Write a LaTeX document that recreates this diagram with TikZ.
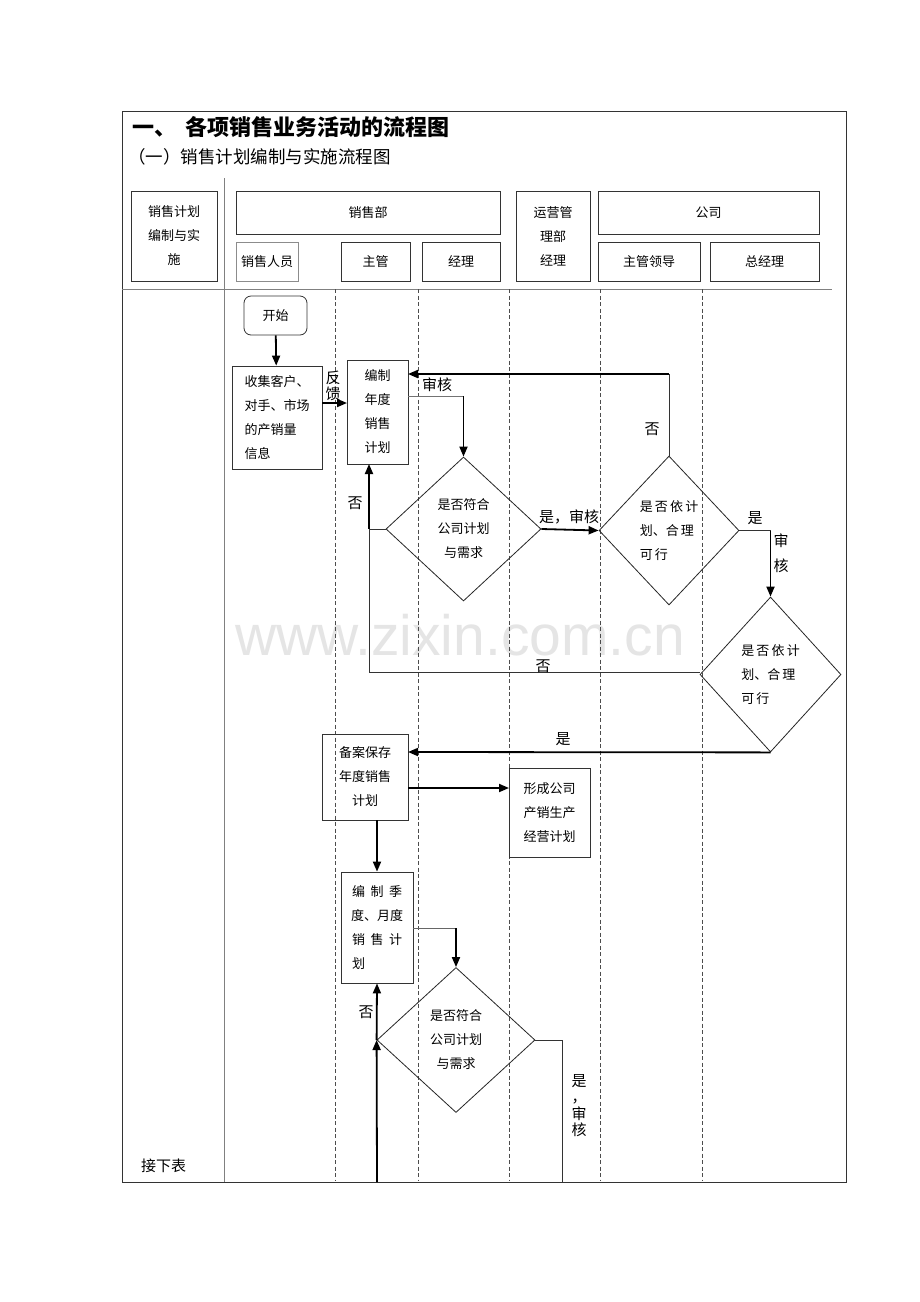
\documentclass[tikz,border=0pt]{standalone}
\usepackage{fontspec}
\setmainfont{Noto Sans CJK SC}
\newfontfamily\wmfont{Liberation Sans}
\usetikzlibrary{arrows.meta,shapes.geometric}
\begin{document}
\begin{tikzpicture}[x=1pt,y=-1pt,
  box/.style={draw=black!80, line width=0.8pt, inner sep=0pt, font=\fontsize{13}{24}\selectfont, align=center},
  dia/.style={draw=black!85, diamond, line width=0.8pt, inner sep=0pt, font=\fontsize{13}{24}\selectfont, align=left},
  thin/.style={line width=0.8pt, black!80},
  thk/.style={line width=1.8pt, black},
  tip/.style={-{Triangle[length=10pt,width=8pt]}},
  lbl/.style={font=\fontsize{15}{15}\selectfont, inner sep=0pt},
  lane/.style={dashed, dash pattern=on 4pt off 2.5pt, line width=0.7pt, black!70},
  gline/.style={line width=0.8pt, black!50}
]
\useasboundingbox (0,0) rectangle (920,1302);
\fill[white] (0,0) rectangle (920,1302);

% watermark
\node[text=black!10, font=\wmfont\fontsize{57}{57}\selectfont, inner sep=0pt] (wm) at (460,635) {www.zixin.com.cn};

% outer frame
\draw[line width=0.9pt, black!80] (122,111) rectangle (846,1182);
\node[anchor=west, font=\fontsize{22}{22}\selectfont\bfseries, inner sep=0pt] (title) at (132,127) {一、\hspace{9pt}各项销售业务活动的流程图};
\node[anchor=west, font=\fontsize{17.5}{18}\selectfont, inner sep=0pt] (subtitle) at (128,157) {（一）销售计划编制与实施流程图};

% header separators
\coordinate (vtop) at (224,178);
\coordinate (vbot) at (224,1182);
\draw[gline] (vtop) -- (vbot);
\coordinate (hl) at (122,289);
\coordinate (hr) at (832,289);
\draw[gline] (hl) -- (hr);

% lanes
\foreach \x/\n in {335/a,418/b,509/c,600/d,702/e}{
  \coordinate (lt\n) at (\x,289);
  \coordinate (lb\n) at (\x,1181);
  \draw[lane] (lt\n) -- (lb\n);
}

% header boxes
\node[box, minimum width=86, minimum height=90] (hA) at (174,236) {销售计划\\编制与实\\施};
\node[box, minimum width=264, minimum height=43] (hB) at (368,212.5) {销售部};
\node[box, draw=black!45, minimum width=62, minimum height=39] (hB1) at (267,261.5) {销售人员};
\node[box, minimum width=69, minimum height=39] (hB2) at (375.5,261.5) {主管};
\node[box, minimum width=78, minimum height=39] (hB3) at (461,261.5) {经理};
\node[box, minimum width=74, minimum height=90] (hC) at (553,236) {运营管\\理部\\经理};
\node[box, minimum width=221, minimum height=43] (hD) at (708.5,212.5) {公司};
\node[box, minimum width=102, minimum height=39] (hD1) at (649,261.5) {主管领导};
\node[box, minimum width=109, minimum height=39] (hD2) at (764.5,261.5) {总经理};

% flow nodes
\node[box, rounded corners=7pt, minimum width=63, minimum height=39] (start) at (275.5,315.5) {开始};
\node[box, minimum width=90, minimum height=103, align=left] (collect) at (277,417.5) {收集客户、\\对手、市场\\的产销量\\信息};
\node[box, minimum width=61, minimum height=104] (plan) at (377.5,412) {编制\\年度\\销售\\计划};
\node[dia, minimum width=155, minimum height=144, align=center] (d1) at (463.5,529) {是否符合\\公司计划\\与需求};
\node[dia, minimum width=140, minimum height=149] (d2) at (669,530.5) {是\,否\,依\,计\\划、合\,理\\可\,行};
\node[dia, minimum width=141, minimum height=155] (d3) at (770.5,674.5) {是\,否\,依\,计\\划、合\,理\\可\,行};
\node[box, minimum width=86, minimum height=86] (save) at (365,777) {备案保存\\年度销售\\计划};
\node[box, minimum width=81, minimum height=89] (form) at (549.5,812.5) {形成公司\\产销生产\\经营计划};
\node[box, minimum width=72, minimum height=111, align=left] (qplan) at (377,927.5) {\makebox[50pt]{编\hfill 制\hfill 季}\\\makebox[50pt]{度、月\hfill 度}\\\makebox[50pt]{销\hfill 售\hfill 计}\\划};
\node[dia, minimum width=158, minimum height=145, align=center] (d4) at (456,1040) {是否符合\\公司计划\\与需求};
\node[anchor=west, font=\fontsize{15}{15}\selectfont, inner sep=0pt] (next) at (141,1166) {接下表};

% connectors
\draw[thk, tip] (start) -- (collect);
\coordinate (c1) at (322,403);
\coordinate (c2) at (347,403);
\draw[thk, tip] (c1) -- (c2);
\node[lbl, align=center, font=\fontsize{15}{16}\selectfont] (fk) at (333,386) {反\\馈};

% plan -> d1
\coordinate (p1) at (408,396);
\coordinate (p2) at (463.5,396);
\draw[thin, black!55] (p1) -- (p2);
\draw[thk, tip] (p2) -- (d1.north);

% d2 back to plan (no)
\coordinate (f1) at (669,374);
\coordinate (f2) at (408,374);
\draw[thin] (d2.north) -- (f1);
\draw[thk, tip] (f1) -- (f2);
\node[lbl] (shenhe1) at (437,385) {审核};
\node[lbl] (no1) at (652,429) {否};

% d1 left -> plan (no)
\coordinate (n1) at (369,529);
\coordinate (n2) at (369,464);
\draw[thin] (d1.west) -- (n1);
\draw[thk, tip] (n1) -- (n2);
\node[lbl] (no2) at (355,503) {否};
% d3 left -> back (no)
\coordinate (n3) at (369,672);
\coordinate (n4) at (700,672);
\draw[thin] (n1) -- (n3) -- (n4);
\node[lbl] (no3) at (543,666) {否};

% d1 -> d2
\draw[thk, tip] (d1.east) -- (d2.west);
\node[lbl] (yes1) at (569,517) {是，审核};

% d2 -> d3
\coordinate (y1) at (770.5,530.5);
\draw[thin] (d2.east) -- (y1);
\draw[thk, tip] (y1) -- (d3.north);
\node[lbl] (yes2) at (755,518) {是};
\node[lbl, align=center, font=\fontsize{15}{25}\selectfont] (sh2) at (781,553.5) {审\\核};

% d3 -> save
\coordinate (s1) at (408,752);
\draw[thk, tip] (d3.south) -- (s1);
\node[lbl] (yes3) at (563,739) {是};

% save -> form
\coordinate (s2) at (408,788);
\coordinate (s3) at (509,788);
\draw[thk, tip] (s2) -- (s3);

% save -> qplan
\coordinate (s4) at (377,820);
\draw[thk, tip] (s4) -- (qplan.north);

% qplan -> d4
\coordinate (q1) at (413,928);
\coordinate (q2) at (456,928);
\draw[thin, black!60] (q1) -- (q2);
\draw[thk, tip] (q2) -- (d4.north);

% bottom arrows to d4 and qplan
\coordinate (b1) at (377,1182);
\draw[thk, tip] (b1) -- (d4.west);
\draw[thk, tip] (d4.west) -- (qplan.south);
\node[lbl] (no4) at (366,1012) {否};

% d4 -> down (yes)
\coordinate (r1) at (562,1040);
\coordinate (r2) at (562,1182);
\draw[thin] (d4.east) -- (r1) -- (r2);
\node[lbl, align=center, font=\fontsize{15}{16.3}\selectfont] (yes4) at (579,1105.5) {是\\，\\审\\核};
\end{tikzpicture}
\end{document}
